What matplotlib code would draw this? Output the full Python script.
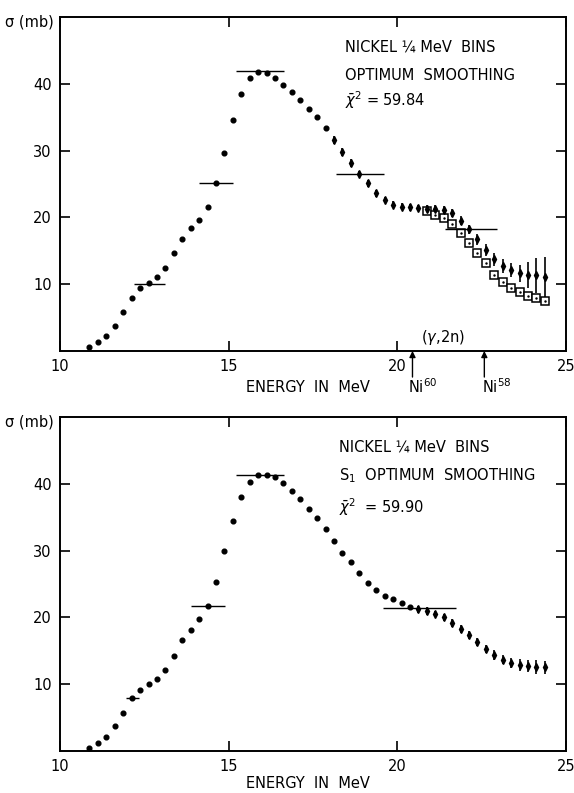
import matplotlib
matplotlib.use("Agg")
import matplotlib.pyplot as plt
import numpy as np

plt.rcParams['font.family'] = ['DejaVu Sans']

# ---- top panel: 1/4 MeV bins, optimum smoothing ----
top_e_dot = [10.875, 11.125, 11.375, 11.625, 11.875, 12.125, 12.375, 12.625, 12.875, 13.125,
             13.375, 13.625, 13.875, 14.125, 14.375, 14.625, 14.875, 15.125, 15.375, 15.625,
             15.875, 16.125, 16.375, 16.625, 16.875, 17.125, 17.375, 17.625, 17.875]
top_s_dot = [0.6, 1.3, 2.2, 3.8, 5.9, 7.9, 9.4, 10.2, 11.0, 12.4,
             14.6, 16.7, 18.4, 19.6, 21.6, 25.1, 29.7, 34.6, 38.4, 40.8,
             41.8, 41.6, 40.9, 39.8, 38.8, 37.6, 36.2, 35.0, 33.4]
top_e_err = [18.125, 18.375, 18.625, 18.875, 19.125, 19.375, 19.625, 19.875, 20.125, 20.375,
             20.625, 20.875, 21.125, 21.375, 21.625, 21.875, 22.125, 22.375, 22.625, 22.875,
             23.125, 23.375, 23.625, 23.875, 24.125, 24.375]
top_s_err = [31.6, 29.8, 28.2, 26.5, 25.1, 23.6, 22.6, 21.9, 21.6, 21.5,
             21.4, 21.3, 21.3, 21.1, 20.6, 19.5, 18.2, 16.7, 15.1, 13.7,
             12.7, 12.1, 11.6, 11.4, 11.3, 11.1]
top_err = [0.6, 0.6, 0.6, 0.5, 0.5, 0.5, 0.5, 0.5, 0.5, 0.5,
           0.5, 0.5, 0.6, 0.6, 0.6, 0.7, 0.7, 0.8, 0.9, 1.0,
           1.0, 1.1, 1.3, 1.9, 2.6, 3.0]
# (gamma,2n) corrected values (open squares)
top_e_sq = [20.875, 21.125, 21.375, 21.625, 21.875, 22.125, 22.375, 22.625, 22.875, 23.125,
            23.375, 23.625, 23.875, 24.125, 24.375]
top_s_sq = [20.9, 20.4, 19.9, 18.95, 17.6, 16.2, 14.7, 13.1, 11.4, 10.4,
            9.45, 8.76, 8.25, 7.86, 7.5]
# resolution bars: centre energy, half width, sigma
top_bar_e = [12.65, 14.62, 15.93, 18.89, 22.18]
top_bar_hw = [0.45, 0.50, 0.72, 0.71, 0.78]
top_bar_s = [10.0, 25.1, 41.9, 26.5, 18.2]

# ---- bottom panel: S1 optimum smoothing ----
bot_e_dot = [10.875, 11.125, 11.375, 11.625, 11.875, 12.125, 12.375, 12.625, 12.875, 13.125,
             13.375, 13.625, 13.875, 14.125, 14.375, 14.625, 14.875, 15.125, 15.375, 15.625,
             15.875, 16.125, 16.375, 16.625, 16.875, 17.125, 17.375, 17.625, 17.875, 18.125,
             18.375, 18.625, 18.875, 19.125, 19.375, 19.625, 19.875, 20.125, 20.375]
bot_s_dot = [0.4, 1.15, 2.1, 3.7, 5.7, 7.9, 9.1, 10.1, 10.8, 12.1,
             14.3, 16.6, 18.1, 19.8, 21.7, 25.3, 29.9, 34.4, 38.1, 40.3,
             41.3, 41.4, 41.0, 40.1, 39.0, 37.8, 36.3, 34.9, 33.3, 31.5,
             29.7, 28.3, 26.6, 25.2, 24.1, 23.2, 22.7, 22.1, 21.6]
bot_e_err = [20.625, 20.875, 21.125, 21.375, 21.625, 21.875, 22.125, 22.375, 22.625, 22.875,
             23.125, 23.375, 23.625, 23.875, 24.125, 24.375]
bot_s_err = [21.2, 21.0, 20.5, 20.0, 19.2, 18.3, 17.4, 16.3, 15.3, 14.4,
             13.7, 13.2, 12.9, 12.8, 12.6, 12.55]
bot_err = [0.5, 0.6, 0.5, 0.5, 0.6, 0.6, 0.6, 0.6, 0.6, 0.7,
           0.7, 0.8, 0.9, 0.9, 1.0, 1.0]
bot_bar_e = [12.15, 14.38, 15.93, 20.66]
bot_bar_hw = [0.18, 0.50, 0.72, 1.09]
bot_bar_s = [7.9, 21.75, 41.3, 21.45]

xticks = [10, 15, 20, 25]
yticks = [10, 20, 30, 40]

# threshold arrows (top panel)
thr_e = [20.45, 22.58]
thr_lab = ['Ni$^{60}$', 'Ni$^{58}$']
thr_lab_e = [20.76, 22.95]

fig = plt.figure(figsize=(5.74, 7.93), dpi=100)
ax1 = fig.add_axes([0.1045, 0.5574, 0.8815, 0.4212])
ax2 = fig.add_axes([0.1045, 0.0530, 0.8815, 0.4208])


def style_axes(ax):
    ax.set_xlim(10, 25)
    ax.set_ylim(0, 50)
    ax.set_xticks(xticks)
    ax.set_xticklabels(['10', '15', '20', '25'])
    ax.set_yticks(yticks)
    ax.set_yticklabels(['10', '20', '30', '40'])
    ax.tick_params(direction='in', length=7, width=1.2, top=True, right=True,
                   labelsize=10.5, pad=6)
    for s in ax.spines.values():
        s.set_linewidth(1.4)
    ax.text(-0.012, 0.985, 'σ (mb)', transform=ax.transAxes,
            ha='right', va='center', fontsize=10.5)


def draw_bars(ax, e, hw, s):
    e = np.array(e)
    hw = np.array(hw)
    ax.hlines(s, e - hw, e + hw, color='black', lw=1.0)


# top
style_axes(ax1)
ax1.plot(top_e_dot, top_s_dot, 'o', color='black', ms=3.4)
ax1.errorbar(top_e_err, top_s_err, yerr=top_err, fmt='d', color='black',
             ms=4.2, elinewidth=1.2, capsize=0)
ax1.plot(top_e_sq, top_s_sq, 's', mfc='white', mec='black', ms=5.5, mew=1.1)
ax1.plot(top_e_sq, top_s_sq, '.', color='black', ms=1.5)
draw_bars(ax1, top_bar_e, top_bar_hw, top_bar_s)
ax1.text(0.563, 0.91, 'NICKEL ¼ MeV  BINS', transform=ax1.transAxes,
         ha='left', va='center', fontsize=10.5)
ax1.text(0.563, 0.826, 'OPTIMUM  SMOOTHING', transform=ax1.transAxes,
         ha='left', va='center', fontsize=10.5)
ax1.text(0.563, 0.752, r'$\bar{\chi}^2$ = 59.84', transform=ax1.transAxes,
         ha='left', va='center', fontsize=10.5)
ax1.text(21.35, 2.0, r'($\gamma$,2n)', ha='center', va='center', fontsize=10.5)
for e, lab, le in zip(thr_e, thr_lab, thr_lab_e):
    ax1.annotate('', xy=(e, 0), xycoords=('data', 'axes fraction'),
                 xytext=(e, -0.078), textcoords=('data', 'axes fraction'),
                 arrowprops=dict(arrowstyle='-|>', color='black', lw=1.0,
                                 mutation_scale=9, shrinkA=0, shrinkB=0),
                 annotation_clip=False)
    ax1.text(le, -0.108, lab, transform=ax1.get_xaxis_transform(),
             ha='center', va='center', fontsize=10.5)
ax1.text(0.49, -0.108, 'ENERGY  IN  MeV', transform=ax1.transAxes,
         ha='center', va='center', fontsize=10.5)

# bottom
style_axes(ax2)
ax2.plot(bot_e_dot, bot_s_dot, 'o', color='black', ms=3.4)
ax2.errorbar(bot_e_err, bot_s_err, yerr=bot_err, fmt='d', color='black',
             ms=4.2, elinewidth=1.2, capsize=0)
draw_bars(ax2, bot_bar_e, bot_bar_hw, bot_bar_s)
ax2.text(0.551, 0.912, 'NICKEL ¼ MeV  BINS', transform=ax2.transAxes,
         ha='left', va='center', fontsize=10.5)
ax2.text(0.551, 0.824, 'S$_\\mathregular{1}$  OPTIMUM  SMOOTHING', transform=ax2.transAxes,
         ha='left', va='center', fontsize=10.5)
ax2.text(0.551, 0.732, r'$\bar{\chi}^2$  = 59.90', transform=ax2.transAxes,
         ha='left', va='center', fontsize=10.5)
ax2.text(0.49, -0.096, 'ENERGY  IN  MeV', transform=ax2.transAxes,
         ha='center', va='center', fontsize=10.5)

fig.savefig('out.png', dpi=100)
